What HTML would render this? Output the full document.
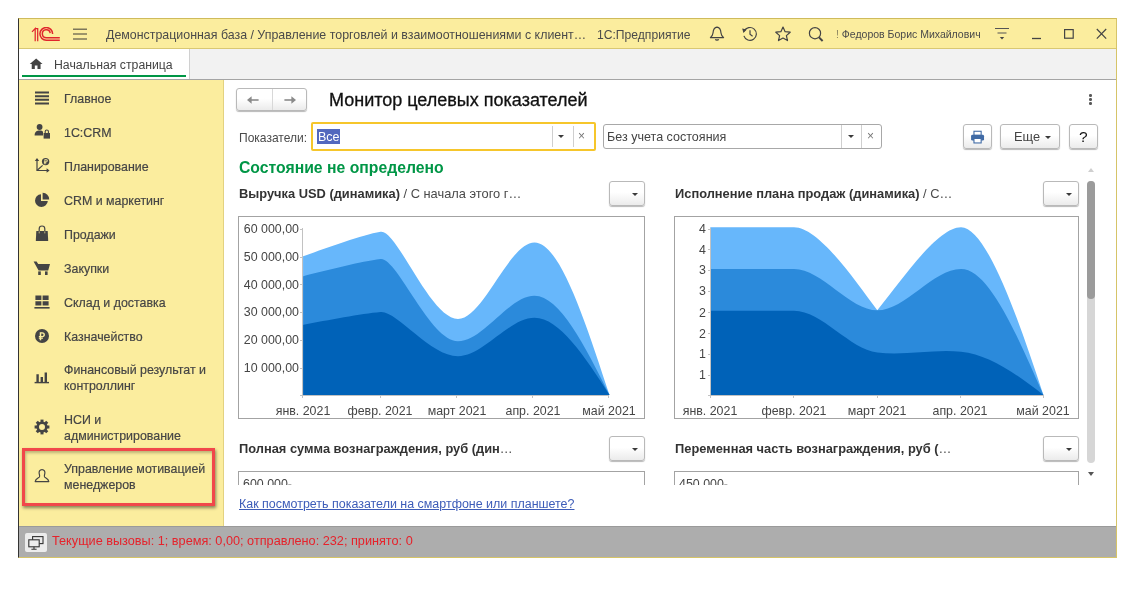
<!DOCTYPE html>
<html lang="ru">
<head>
<meta charset="utf-8">
<title>Монитор целевых показателей</title>
<style>
*{box-sizing:border-box;margin:0;padding:0}
html,body{width:1128px;height:590px;overflow:hidden;background:#fff}
body{position:relative;font-family:"Liberation Sans",Arial,sans-serif;font-size:13px;color:#4a4a4a}
.abs{position:absolute}
.win{position:absolute;left:18px;top:18px;width:1099px;height:540px;border:1px solid #d6c468;border-top-color:#cfbb5c;border-left-color:#333;background:#fff;overflow:hidden}
.titlebar{position:absolute;left:19px;top:19px;width:1097px;height:30px;background:#fbed9e;border-bottom:1px solid #d9c873}
.tabbar{position:absolute;left:19px;top:49px;width:1097px;height:31px;background:#f2f2f2;border-bottom:1px solid #a5a5a5}
.tab{position:absolute;left:0;top:0;width:171px;height:30px;background:#fff;border-right:1px solid #d0d0d0}
.tab .ul{position:absolute;left:3px;top:26px;width:164px;height:2px;background:#009646}
.sidebar{position:absolute;left:19px;top:80px;width:205px;height:446px;background:#fbed9e;border-right:1px solid #e3d280}
.status{position:absolute;left:19px;top:526px;width:1097px;height:31px;background:#adadad;border-top:1px solid #9a9a9a}
.t{position:absolute;white-space:nowrap;line-height:16px}
.item{position:absolute;left:63.5px;width:170px;line-height:15.5px;color:#454545;-webkit-text-stroke:0.2px #454545;font-size:13.2px;white-space:nowrap;transform:scaleX(.94);transform-origin:0 50%}
.ico{position:absolute}
.btn{position:absolute;border:1px solid #b9b9b9;border-radius:3px;background:linear-gradient(#fff 45%,#ebebeb);box-shadow:0 1px 1px rgba(0,0,0,.28)}
.inp{position:absolute;border:1px solid #a8a8a8;border-radius:3px;background:#fff}
.chartbox{position:absolute;border:1px solid #a3a3a3;background:#fff}
.charts{position:absolute;left:0;top:0}
.yl{position:absolute;font-size:13.2px;line-height:14px;color:#454545;text-align:right;white-space:nowrap;transform:scaleX(.94);transform-origin:100% 50%}
.xl{position:absolute;font-size:13.2px;line-height:14px;color:#454545;white-space:nowrap;transform:translateX(-50%) scaleX(.94)}
.h{position:absolute;white-space:nowrap;font-size:13.5px;line-height:16px;color:#4a4a4a;transform:scaleX(.952);transform-origin:0 50%}
.h b{color:#333}
.c{transform:scaleX(.94);transform-origin:0 50%}
.caret{position:absolute;width:0;height:0;border-left:3px solid transparent;border-right:3px solid transparent;border-top:3px solid #3a3a3a}
</style>
</head>
<body>
<div class="win"></div>

<!-- title bar -->
<div class="titlebar"></div>
<svg class="abs" style="left:30px;top:26.6px" width="32" height="16" viewBox="0 0 32 16">
  <g fill="none" stroke="#e0262c" stroke-width="1.25">
    <path d="M2,4.9 L5.2,1.6 V14.2 M5.2,1.6 H7.7 V14.2"/>
    <path d="M22.6,6.9 A6.35,6.35 0 1 0 16.3,13.2 H29.8" stroke-width="1.5"/>
    <path d="M20.2,6.2 A3.95,3.95 0 1 0 16.3,10.75 H29.8" stroke-width="1.5"/>
  </g>
</svg>
<svg class="abs" style="left:72px;top:27px" width="16" height="14" viewBox="0 0 16 14">
  <g stroke="#7d775a" stroke-width="1.5"><path d="M1,2.2H15M1,7H15M1,11.9H15"/></g>
</svg>
<div class="t c" id="tbtxt" style="left:106.3px;top:26.5px;font-size:13.2px;color:#4a4a4a">Демонстрационная база / Управление торговлей и взаимоотношениями с клиент…</div>
<div class="t c" style="left:596.5px;top:26.5px;font-size:12.9px;color:#4a4a4a">1С:Предприятие</div>
<!-- bell -->
<svg class="abs" style="left:708px;top:25px" width="18" height="18" viewBox="0 0 18 18">
  <g fill="none" stroke="#444" stroke-width="1.2" stroke-linejoin="round">
    <path d="M9,2.2 C5.8,2.6 5.2,5.6 5,8 C4.8,10.3 3.6,11.6 2.4,12.6 H15.6 C14.4,11.6 13.2,10.3 13,8 C12.8,5.6 12.2,2.6 9,2.2 Z"/>
    <path d="M7.4,14.2 C7.8,15.4 10.2,15.4 10.6,14.2"/>
  </g>
</svg>
<!-- history -->
<svg class="abs" style="left:741px;top:25px" width="18" height="18" viewBox="0 0 18 18">
  <g fill="none" stroke="#444" stroke-width="1.2">
    <path d="M3.2,6.2 A6.4,6.4 0 1 1 2.9,10.9"/>
    <path d="M9,5.2 V9.3 L11.6,11.2"/>
  </g>
  <path d="M1.2,3.6 L5.8,4.6 L2.4,8 Z" fill="#444"/>
</svg>
<!-- star -->
<svg class="abs" style="left:774px;top:25px" width="18" height="18" viewBox="0 0 18 18">
  <path d="M9,2 L11.1,6.7 L16.2,7.2 L12.4,10.6 L13.5,15.6 L9,13 L4.5,15.6 L5.6,10.6 L1.8,7.2 L6.9,6.7 Z" fill="none" stroke="#444" stroke-width="1.2" stroke-linejoin="round"/>
</svg>
<!-- search -->
<svg class="abs" style="left:807px;top:25px" width="18" height="18" viewBox="0 0 18 18">
  <circle cx="8" cy="8.2" r="5.6" fill="none" stroke="#444" stroke-width="1.2"/>
  <path d="M12,12.4 L15.6,16" stroke="#444" stroke-width="2"/>
</svg>
<div class="t" style="left:836px;top:27px;font-size:10.5px;line-height:14px;color:#4a4a4a"><span style="color:#8c8560">!</span> Федоров Борис Михайлович</div>
<!-- menu lines -->
<svg class="abs" style="left:994px;top:26px" width="18" height="16" viewBox="0 0 18 16">
  <path d="M1,2.5H15M3.5,7H12.5" stroke="#555" stroke-width="1.2"/>
  <path d="M5.8,11 H10.2 L8,13.6 Z" fill="#444"/>
</svg>
<svg class="abs" style="left:1030px;top:26px" width="14" height="16" viewBox="0 0 14 16"><path d="M2,12.5H11" stroke="#444" stroke-width="1.3"/></svg>
<svg class="abs" style="left:1062px;top:26px" width="14" height="16" viewBox="0 0 14 16"><rect x="2.6" y="3.6" width="8.6" height="8.6" fill="none" stroke="#444" stroke-width="1.2"/></svg>
<svg class="abs" style="left:1094px;top:26px" width="16" height="16" viewBox="0 0 16 16"><path d="M2.8,3 L12.2,12.6 M12.2,3 L2.8,12.6" stroke="#444" stroke-width="1.2"/></svg>

<!-- tab bar -->
<div class="tabbar">
  <div class="tab"><div class="ul"></div></div>
</div>
<svg class="abs" style="left:28.8px;top:57.6px" width="14.3" height="11.3" viewBox="0 0 13 11">
  <path d="M6.5,0.4 L0.3,5.8 H2.2 V10.6 H5.2 V7.2 H7.8 V10.6 H10.8 V5.8 H12.7 Z" fill="#444"/>
</svg>
<div class="t c" style="left:54px;top:56.5px;font-size:13.05px;color:#444">Начальная страница</div>

<!-- sidebar -->
<div class="sidebar"></div>
<!-- icons -->
<svg class="abs" style="left:34px;top:90px" width="16" height="16" viewBox="0 0 16 16"><path d="M1,2.6H15M1,6.2H15M1,9.8H15M1,13.4H15" stroke="#444" stroke-width="2"/></svg>
<svg class="abs" style="left:34px;top:123px" width="17" height="17" viewBox="0 0 17 17">
  <circle cx="5.6" cy="4" r="2.9" fill="#444"/>
  <path d="M0.6,12.6 C0.6,8.6 3,7.6 5.6,7.6 C7.4,7.6 8.4,8 9,8.8 V12.6 Z" fill="#444"/>
  <rect x="9.6" y="10" width="6.4" height="5.6" fill="#444"/>
  <path d="M11.2,10 V8.6 A1.6,1.6 0 0 1 14.4,8.6 V10" fill="none" stroke="#444" stroke-width="1.1"/>
</svg>
<svg class="abs" style="left:34px;top:157px" width="17" height="17" viewBox="0 0 17 17">
  <g stroke="#444" stroke-width="1.2" fill="none"><path d="M3,2 V13.5 H14.5"/><path d="M3,13.5 L8.6,8.4"/></g>
  <path d="M0.8,4 L3,1 L5.2,4 Z M12.6,11.3 L15.6,13.5 L12.6,15.7 Z" fill="#444"/>
  <circle cx="11.6" cy="4.6" r="3.7" fill="#444"/>
  <text x="11.6" y="7" font-size="6.5" font-weight="bold" font-family="Liberation Sans,sans-serif" text-anchor="middle" fill="#fbed9e">₽</text>
</svg>
<svg class="abs" style="left:34px;top:192px" width="16" height="16" viewBox="0 0 16 16">
  <path d="M7,2.2 A6.4,6.4 0 1 0 13.8,9 H7 Z" fill="#444"/>
  <path d="M8.6,0.8 A6.4,6.4 0 0 1 15.2,7.4 H8.6 Z" fill="#444"/>
</svg>
<svg class="abs" style="left:35px;top:225px" width="14" height="17" viewBox="0 0 14 17">
  <path d="M1.3,6 H12.7 L13.2,16 H0.8 Z" fill="#444"/>
  <path d="M4.2,8.6 V3.8 A2.8,2.8 0 0 1 9.8,3.8 V8.6" fill="none" stroke="#444" stroke-width="1.2"/>
  <path d="M4.2,8.4 V6.4 M9.8,8.4 V6.4" fill="none" stroke="#cfc384" stroke-width="0.9"/>
</svg>
<svg class="abs" style="left:33px;top:260px" width="18" height="16" viewBox="0 0 18 16">
  <path d="M0.6,1.6 H3.6 L5.2,4 H17 L15.2,10.4 H5.6 Z" fill="#444"/>
  <rect x="5.2" y="11.4" width="2.6" height="3.6" fill="#444"/><rect x="12" y="11.4" width="2.6" height="3.6" fill="#444"/>
</svg>
<svg class="abs" style="left:34px;top:294px" width="16" height="16" viewBox="0 0 16 16">
  <path d="M1.4,1.6 H7.4 V6 H1.4 Z M8.6,1.6 H14.6 V6 H8.6 Z M1.4,7.2 H7.4 V11.6 H1.4 Z M8.6,7.2 H14.6 V11.6 H8.6 Z" fill="#444"/>
  <path d="M0.4,13.8 H15.6" stroke="#444" stroke-width="1.6"/>
</svg>
<svg class="abs" style="left:34px;top:328px" width="16" height="16" viewBox="0 0 16 16">
  <circle cx="8" cy="8" r="7" fill="#444"/>
  <text x="8" y="12" font-size="10.5" font-weight="bold" font-family="Liberation Sans,sans-serif" text-anchor="middle" fill="#fbed9e">₽</text>
</svg>
<svg class="abs" style="left:34px;top:369px" width="16" height="16" viewBox="0 0 16 16">
  <path d="M2.4,5.2 H4.8 V13 H2.4 Z M6.6,8 H9 V13 H6.6 Z M10.6,3.4 H13 V13 H10.6 Z" fill="#444"/>
  <path d="M0.6,13.6 H15" stroke="#444" stroke-width="1.4"/>
</svg>
<svg class="abs" style="left:34px;top:419px" width="16" height="16" viewBox="0 0 16 16">
  <g transform="translate(8,8)">
    <circle r="4.3" fill="none" stroke="#444" stroke-width="2.6"/>
    <g fill="#444">
      <rect x="-1.5" y="-7.4" width="3" height="3"/><rect x="-1.5" y="4.4" width="3" height="3"/>
      <rect x="-7.4" y="-1.5" width="3" height="3"/><rect x="4.4" y="-1.5" width="3" height="3"/>
      <g transform="rotate(45)"><rect x="-1.5" y="-7.4" width="3" height="3"/><rect x="-1.5" y="4.4" width="3" height="3"/>
      <rect x="-7.4" y="-1.5" width="3" height="3"/><rect x="4.4" y="-1.5" width="3" height="3"/></g>
    </g>
  </g>
</svg>
<svg class="abs" style="left:34px;top:468px" width="16" height="16" viewBox="0 0 16 16">
  <path d="M8,1.6 C5.6,1.6 4.8,3.6 5.2,5.6 C5.5,7.2 6,8 5.4,9 C4.6,10.2 1.6,10.6 1.2,13.6 H14.8 C14.4,10.6 11.4,10.2 10.6,9 C10,8 10.5,7.2 10.8,5.6 C11.2,3.6 10.4,1.6 8,1.6 Z" fill="none" stroke="#444" stroke-width="1.2" stroke-linejoin="round"/>
</svg>
<div class="item" style="top:90.6px">Главное</div>
<div class="item" style="top:124.6px">1C:CRM</div>
<div class="item" style="top:158.6px">Планирование</div>
<div class="item" style="top:192.6px">CRM и маркетинг</div>
<div class="item" style="top:226.6px">Продажи</div>
<div class="item" style="top:260.6px">Закупки</div>
<div class="item" style="top:294.6px">Склад и доставка</div>
<div class="item" style="top:328.6px">Казначейство</div>
<div class="item" style="top:362.1px">Финансовый результат и<br>контроллинг</div>
<div class="item" style="top:412.1px">НСИ и<br>администрирование</div>
<div class="item" style="top:461.1px">Управление мотивацией<br>менеджеров</div>
<div class="abs" style="left:22.3px;top:447.5px;width:193px;height:58.5px;border:3px solid #f1474a;box-shadow:1px 2px 3px rgba(0,0,0,.45), inset 1px 2px 3px rgba(0,0,0,.25)"></div>

<!-- status -->
<div class="status"></div>
<div class="abs" style="left:25px;top:533px;width:22px;height:19px;background:#ececec;border-radius:2px"></div>
<svg class="abs" style="left:27px;top:535px" width="18" height="16" viewBox="0 0 18 16">
  <g fill="#ececec" stroke="#333" stroke-width="1.1">
    <rect x="5.6" y="1.6" width="10.4" height="7"/>
    <rect x="1.8" y="4.8" width="10.4" height="7"/>
  </g>
  <path d="M7,11.8 V14 M4.4,14.2 H9.6" stroke="#333" stroke-width="1.1" fill="none"/>
</svg>
<div class="t c" style="left:52px;top:532.5px;font-size:13.5px;color:#e6222b">Текущие вызовы: 1; время: 0,00; отправлено: 232; принято: 0</div>

<!-- content -->
<div class="btn" style="left:236px;top:88px;width:71px;height:23px"></div>
<div class="abs" style="left:272px;top:89px;width:1px;height:21px;background:#d8d8d8"></div>
<svg class="abs" style="left:246px;top:94px" width="14" height="12" viewBox="0 0 14 12"><path d="M12.6,6 H3" stroke="#8a8a8a" stroke-width="1.6"/><path d="M1,6 L5.6,2.2 V9.8 Z" fill="#8a8a8a"/></svg>
<svg class="abs" style="left:283px;top:94px" width="14" height="12" viewBox="0 0 14 12"><path d="M1.4,6 H11" stroke="#8a8a8a" stroke-width="1.6"/><path d="M13,6 L8.4,2.2 V9.8 Z" fill="#8a8a8a"/></svg>
<div class="t" style="left:329px;top:88px;font-size:18px;line-height:24px;color:#111;-webkit-text-stroke:0.3px #111">Монитор целевых показателей</div>
<div class="abs" style="left:1089.2px;top:94.2px;width:2.6px;height:2.6px;background:#5a5a5a;border-radius:1.2px;box-shadow:0 4px 0 #5a5a5a,0 8px 0 #5a5a5a"></div>

<div class="t c" style="left:239px;top:129.5px;font-size:12.8px;color:#4a4a4a">Показатели:</div>
<div class="inp" style="left:311px;top:122px;width:285px;height:29px;border:2px solid #f6c62b;border-radius:2px"></div>
<div class="abs" style="left:317px;top:129px;width:23px;height:15px;background:#5268be"></div>
<div class="t c" style="left:317.5px;top:129px;font-size:13.3px;color:#fff">Все</div>
<div class="abs" style="left:552px;top:126px;width:1px;height:21px;background:#cfcfcf"></div>
<div class="abs" style="left:573px;top:126px;width:1px;height:21px;background:#cfcfcf"></div>
<div class="caret" style="left:558px;top:135px"></div>
<div class="t" style="left:578px;top:128px;font-size:12px;color:#777">×</div>

<div class="inp" style="left:603px;top:124px;width:279px;height:25px"></div>
<div class="t c" style="left:607.3px;top:129px;font-size:13.35px;color:#444">Без учета состояния</div>
<div class="abs" style="left:841px;top:125px;width:1px;height:23px;background:#cfcfcf"></div>
<div class="abs" style="left:861px;top:125px;width:1px;height:23px;background:#cfcfcf"></div>
<div class="caret" style="left:848px;top:135px"></div>
<div class="t" style="left:867px;top:128px;font-size:12px;color:#777">×</div>

<div class="btn" style="left:963px;top:124px;width:29px;height:25px"></div>
<svg class="abs" style="left:970px;top:130px" width="15.3" height="14.4" viewBox="0 0 17 16">
  <rect x="4.4" y="1.4" width="8" height="4.6" fill="#fff" stroke="#3f6aa5" stroke-width="1.2"/>
  <rect x="1.2" y="5.4" width="14.4" height="6.4" rx="1.6" fill="#3f6aa5"/>
  <rect x="4.4" y="9.4" width="8" height="5" fill="#fff" stroke="#3f6aa5" stroke-width="1.2"/>
</svg>
<div class="btn" style="left:1000px;top:124px;width:60px;height:25px"></div>
<div class="t c" style="left:1014px;top:129px;font-size:13.6px;color:#444">Еще</div>
<div class="caret" style="left:1045px;top:136px"></div>
<div class="btn" style="left:1069px;top:124px;width:29px;height:25px"></div>
<div class="t" style="left:1079px;top:128px;font-size:15.5px;color:#111;line-height:18px;">?</div>

<div class="t" style="left:239px;top:158.9px;font-size:15.75px;font-weight:bold;color:#009646;line-height:18px">Состояние не определено</div>

<div class="h" style="left:239px;top:185.5px"><b>Выручка USD (динамика)</b> / С начала этого г…</div>
<div class="btn" style="left:609px;top:181px;width:36px;height:25px"></div>
<div class="caret" style="left:632px;top:193px"></div>
<div class="h" style="left:674.5px;top:185.5px"><b>Исполнение плана продаж (динамика)</b> / С…</div>
<div class="btn" style="left:1043px;top:181px;width:36px;height:25px"></div>
<div class="caret" style="left:1066px;top:193px"></div>

<div class="chartbox" style="left:238px;top:216px;width:407px;height:203px"></div>
<div class="chartbox" style="left:674px;top:216px;width:405px;height:203px"></div>

<svg class="charts" width="1128" height="590" viewBox="0 0 1128 590">
<g shape-rendering="geometricPrecision">
<path d="M302.5,395.0 L302.5,256.6 C328.3,247.4 361.1,235.2 380.6,231.8 C396.9,229.0 430.1,318.9 458.0,318.9 C483.5,318.9 509.0,242.4 534.5,242.4 C559.5,242.4 584.5,318.7 609.5,395.0 L609.5,395.0 Z" fill="#67b7fb"/>
<path d="M302.5,395.0 L302.5,276.4 C328.3,270.0 361.1,261.5 380.6,259.1 C396.9,257.1 430.1,341.3 458.0,341.3 C483.5,341.3 509.0,295.8 534.5,295.8 C559.5,295.8 584.5,345.4 609.5,395.0 L609.5,395.0 Z" fill="#2b8adb"/>
<path d="M302.5,395.0 L302.5,324.9 C328.3,320.1 361.1,313.8 380.6,312.0 C396.9,310.5 430.1,356.2 458.0,356.2 C483.5,356.2 509.0,317.8 534.5,317.8 C559.5,317.8 584.5,356.4 609.5,395.0 L609.5,395.0 Z" fill="#0062b8"/>
<path d="M710.0,395.0 L710.0,227.2 C738.0,227.2 766.0,227.2 794.0,227.2 C819.0,227.2 854.0,279.3 877.3,310.3 C904.1,276.8 938.0,227.2 961.0,227.2 C985.7,227.2 1015.9,311.1 1043.4,395.0 L1043.4,395.0 Z" fill="#67b7fb"/>
<path d="M710.0,395.0 L710.0,268.9 C738.0,268.9 766.0,268.9 794.0,268.9 C821.8,268.9 849.5,310.3 877.3,310.3 C905.2,310.3 933.1,268.9 961.0,268.9 C988.5,268.9 1015.9,331.9 1043.4,395.0 L1043.4,395.0 Z" fill="#2b8adb"/>
<path d="M710.0,395.0 L710.0,310.7 C738.0,310.7 766.0,310.7 794.0,310.7 C821.8,310.7 849.5,349.2 877.3,352.5 C905.2,355.8 933.1,348.9 961.0,351.7 C988.5,354.4 1015.9,373.4 1043.4,395.0 L1043.4,395.0 Z" fill="#0062b8"/>
<path d="M302.6,257 V395 M710.4,227 V395" stroke="rgba(255,255,255,.3)" stroke-width="1.2" fill="none"/>
</g>
<g stroke="#c2c2c2" stroke-width="1" fill="none" shape-rendering="crispEdges">
<path d="M302.5,228 V395.5 H609"/>
<path d="M299.5,229.5 H302 M299.5,257.5 H302 M299.5,284.5 H302 M299.5,312.5 H302 M299.5,340.5 H302 M299.5,368.5 H302 M299.5,395.5 H302"/>
<path d="M302.5,395 V398 M380.5,395 V398 M456.5,395 V398 M532.5,395 V398 M608.5,395 V398"/>
<path d="M710.5,228 V395.5 H1043"/>
<path d="M707.5,229.5 H710 M707.5,249.5 H710 M707.5,270.5 H710 M707.5,291.5 H710 M707.5,312.5 H710 M707.5,333.5 H710 M707.5,354.5 H710 M707.5,375.5 H710 M707.5,395.5 H710"/>
<path d="M710.5,395 V398 M793.5,395 V398 M877.5,395 V398 M960.5,395 V398 M1043.5,395 V398"/>
</g>
</svg>

<div class="yl" style="left:238px;width:61px;top:222px">60 000,00</div>
<div class="yl" style="left:238px;width:61px;top:250px">50 000,00</div>
<div class="yl" style="left:238px;width:61px;top:277.5px">40 000,00</div>
<div class="yl" style="left:238px;width:61px;top:305px">30 000,00</div>
<div class="yl" style="left:238px;width:61px;top:333px">20 000,00</div>
<div class="yl" style="left:238px;width:61px;top:361px">10 000,00</div>
<div class="xl" style="left:303px;top:403.8px">янв. 2021</div>
<div class="xl" style="left:380px;top:403.8px">февр. 2021</div>
<div class="xl" style="left:457px;top:403.8px">март 2021</div>
<div class="xl" style="left:533px;top:403.8px">апр. 2021</div>
<div class="xl" style="left:609px;top:403.8px">май 2021</div>

<div class="yl" style="left:680px;width:26px;top:222px">4</div>
<div class="yl" style="left:680px;width:26px;top:242.5px">4</div>
<div class="yl" style="left:680px;width:26px;top:263px">3</div>
<div class="yl" style="left:680px;width:26px;top:284px">3</div>
<div class="yl" style="left:680px;width:26px;top:306px">2</div>
<div class="yl" style="left:680px;width:26px;top:327px">2</div>
<div class="yl" style="left:680px;width:26px;top:347px">1</div>
<div class="yl" style="left:680px;width:26px;top:368px">1</div>
<div class="xl" style="left:710px;top:403.8px">янв. 2021</div>
<div class="xl" style="left:794px;top:403.8px">февр. 2021</div>
<div class="xl" style="left:877px;top:403.8px">март 2021</div>
<div class="xl" style="left:960px;top:403.8px">апр. 2021</div>
<div class="xl" style="left:1043px;top:403.8px">май 2021</div>

<!-- second row -->
<div class="h" style="left:239px;top:440.5px"><b>Полная сумма вознаграждения, руб (дин</b>…</div>
<div class="btn" style="left:609px;top:436px;width:36px;height:25px"></div>
<div class="caret" style="left:632px;top:448px"></div>
<div class="h" style="left:674.5px;top:440.5px"><b>Переменная часть вознаграждения, руб (</b>…</div>
<div class="btn" style="left:1043px;top:436px;width:36px;height:25px"></div>
<div class="caret" style="left:1066px;top:448px"></div>
<div class="abs" style="left:238px;top:471px;width:850px;height:14px;overflow:hidden">
  <div class="chartbox" style="left:0;top:0;width:407px;height:60px"></div>
  <div class="chartbox" style="left:436px;top:0;width:405px;height:60px"></div>
  <div class="yl" style="left:5px;top:6px;text-align:left;transform-origin:0 50%">600 000<span style="color:#aaa">-</span></div>
  <div class="yl" style="left:441px;top:6px;text-align:left;transform-origin:0 50%">450 000<span style="color:#aaa">-</span></div>
</div>
<div class="t c" style="left:239.3px;top:496.5px;font-size:13.25px;line-height:14px;color:#3d5cb8;text-decoration:underline">Как посмотреть показатели на смартфоне или планшете?</div>

<!-- scrollbar -->
<div class="abs" style="left:1087px;top:181px;width:8px;height:282px;background:#d6d6d6;border-radius:4px"></div>
<div class="abs" style="left:1087px;top:181px;width:8px;height:118px;background:#9b9b9b;border-radius:4px"></div>
<div class="abs" style="left:1088px;top:167.6px;width:0;height:0;border-left:3px solid transparent;border-right:3px solid transparent;border-bottom:4px solid #cfcfcf"></div>
<div class="abs" style="left:1088px;top:472px;width:0;height:0;border-left:3px solid transparent;border-right:3px solid transparent;border-top:4px solid #555"></div>
</body>
</html>
